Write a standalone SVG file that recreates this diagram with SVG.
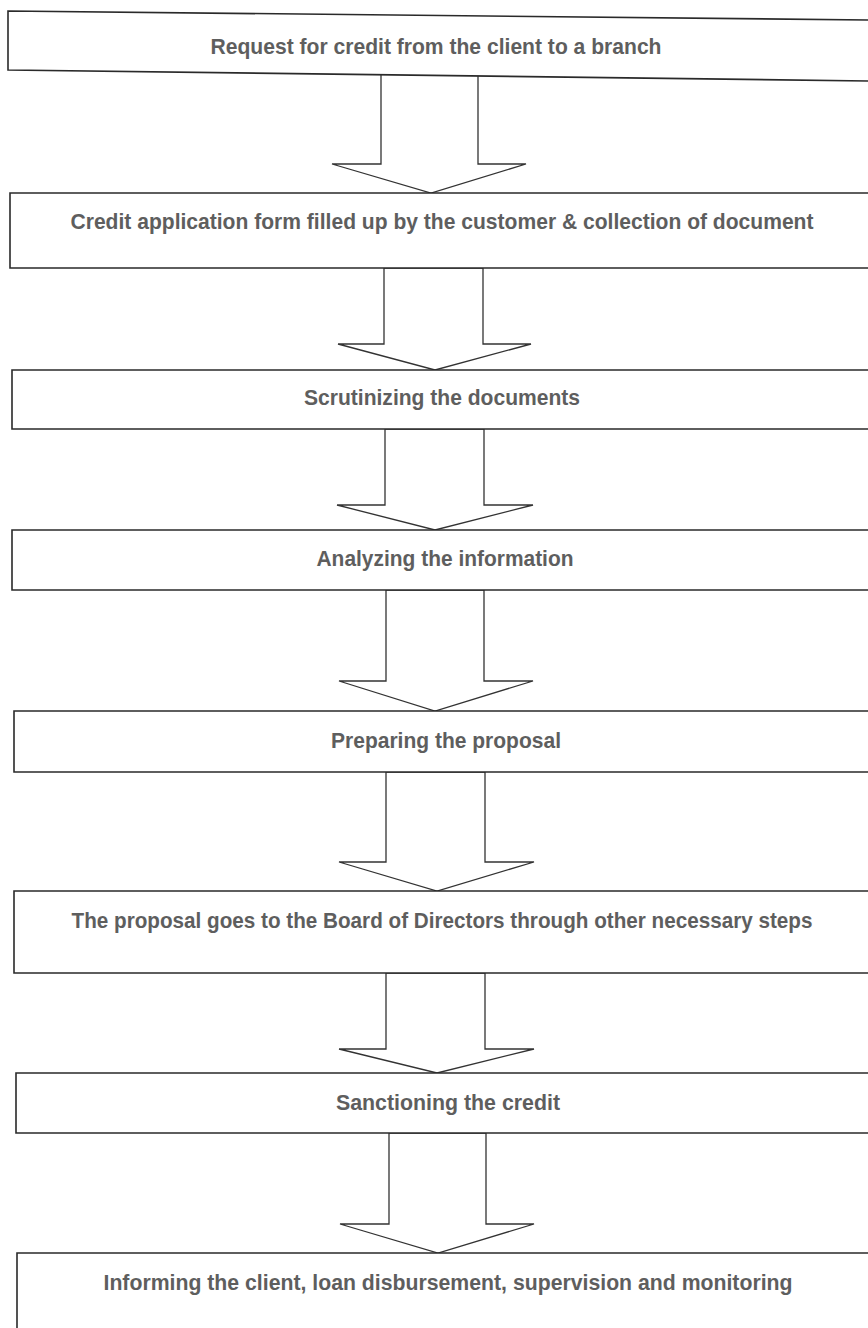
<svg xmlns="http://www.w3.org/2000/svg" width="868" height="1328" viewBox="0 0 868 1328">
<style>
.box{fill:#ffffff;stroke:#2a2a2a;stroke-width:1.6}
.arrow{fill:#ffffff;stroke:#333333;stroke-width:1.3;stroke-linejoin:miter}
.label{font-family:"Liberation Sans",Arial,sans-serif;font-weight:bold;font-size:22px;fill:#5e5e5e;text-anchor:middle}
</style>
<rect width="868" height="1328" fill="#ffffff"/>
<g id="connectors">
<polygon class="arrow" points="381,74 381,164 332,164 431,193 526,164 478,164 478,75"/>
<polygon class="arrow" points="384,268 384,344 338,344 435,370 531,344 483,344 483,268"/>
<polygon class="arrow" points="385,429 385,505 337,505 435,530 533,505 484,505 484,429"/>
<polygon class="arrow" points="386,590 386,681 339,681 435,711 533,681 484,681 484,590"/>
<polygon class="arrow" points="386,772 386,862 339,862 437,891 534,862 485,862 485,772"/>
<polygon class="arrow" points="386,973 386,1049 339,1049 437,1073 534,1049 485,1049 485,973"/>
<polygon class="arrow" points="389,1133 389,1224 340,1224 438,1253 534,1224 486,1224 486,1133"/>
</g>
<g id="node1">
<path class="box" d="M868,20 L8,11 L8,70 L868,81"/>
<text class="label" x="436" y="54" textLength="451" lengthAdjust="spacingAndGlyphs">Request for credit from the client to a branch</text>
</g>
<g id="node2">
<path class="box" d="M868,193 H10 V268 H868"/>
<text class="label" x="442" y="229" textLength="743" lengthAdjust="spacingAndGlyphs">Credit application form filled up by the customer &amp; collection of document</text>
</g>
<g id="node3">
<path class="box" d="M868,370 H12 V429 H868"/>
<text class="label" x="442" y="405" textLength="276" lengthAdjust="spacingAndGlyphs">Scrutinizing the documents</text>
</g>
<g id="node4">
<path class="box" d="M868,530 H12 V590 H868"/>
<text class="label" x="445" y="566" textLength="257" lengthAdjust="spacingAndGlyphs">Analyzing the information</text>
</g>
<g id="node5">
<path class="box" d="M868,711 H14 V772 H868"/>
<text class="label" x="446" y="748" textLength="230" lengthAdjust="spacingAndGlyphs">Preparing the proposal</text>
</g>
<g id="node6">
<path class="box" d="M868,891 H14 V973 H868"/>
<text class="label" x="442" y="928" textLength="741" lengthAdjust="spacingAndGlyphs">The proposal goes to the Board of Directors through other necessary steps</text>
</g>
<g id="node7">
<path class="box" d="M868,1073 H16 V1133 H868"/>
<text class="label" x="448" y="1110" textLength="224" lengthAdjust="spacingAndGlyphs">Sanctioning the credit</text>
</g>
<g id="node8">
<path class="box" d="M868,1253 H17 V1328"/>
<text class="label" x="448" y="1290" textLength="689" lengthAdjust="spacingAndGlyphs">Informing the client, loan disbursement, supervision and monitoring</text>
</g>
</svg>
